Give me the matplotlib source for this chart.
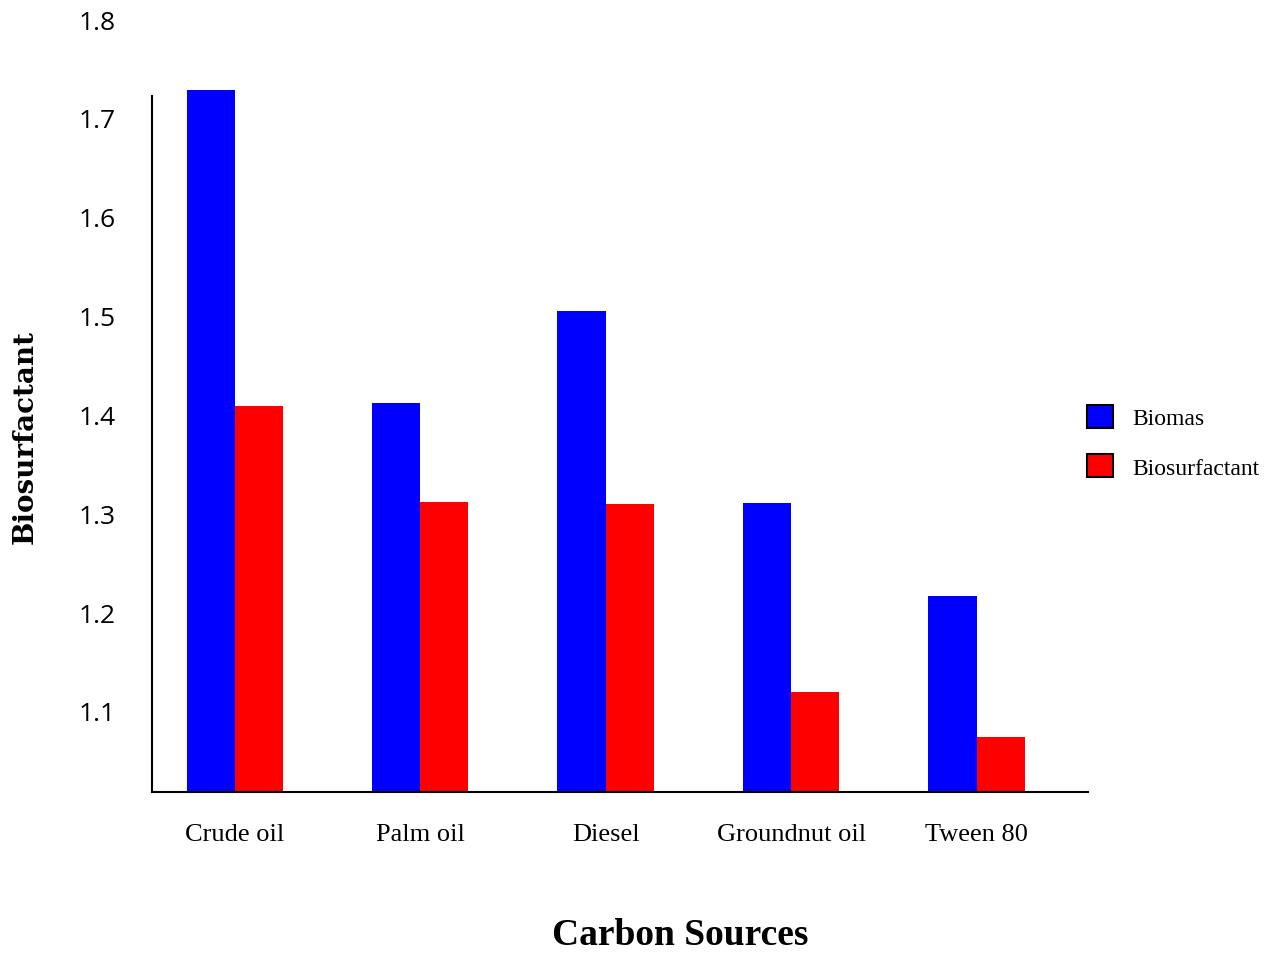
import numpy as np
import matplotlib.pyplot as plt
from matplotlib.patches import Patch

# Carbon source data
sources = ["Crude oil", "Palm oil", "Diesel", "Groundnut oil", "Tween 80"]
biomas = [1.728, 1.412, 1.505, 1.310, 1.216]
biosurfactant = [1.408, 1.311, 1.309, 1.119, 1.074]
yticks = [1.1, 1.2, 1.3, 1.4, 1.5, 1.6, 1.7, 1.8]

W, H = 1269, 954
fig = plt.figure(figsize=(W / 100, H / 100), dpi=100)
ax = fig.add_axes([152 / W, 1 - 793 / H, (1088 - 152) / W, (793 - 20) / H])

x = np.arange(len(sources))
width = 0.26
ax.bar(x - width / 2, biomas, width, color="#0000ff", zorder=1)
ax.bar(x + width / 2, biosurfactant, width, color="#ff0000", zorder=1)

ax.set_xlim(-0.446, 4.6)
ax.set_ylim(1.018, 1.8)

for s in ["top", "right"]:
    ax.spines[s].set_visible(False)
ax.spines["left"].set_bounds(1.018, 1.722)
ax.spines["left"].set_linewidth(1.5)
ax.spines["bottom"].set_linewidth(1.5)

ax.set_yticks(yticks)
ax.set_yticklabels([f"{v:.1f}" for v in yticks], fontfamily="Open Sans", fontsize=19)
ax.tick_params(axis="y", length=0, pad=26)

ax.set_xticks(x)
ax.set_xticklabels(sources, fontfamily="Liberation Serif", fontsize=19)
ax.tick_params(axis="x", length=0, pad=22)

fig.text(25 / W, 1 - 437 / H, "Biosurfactant", rotation=90, ha="center", va="center",
         fontfamily="DejaVu Serif", fontweight="bold", fontsize=20)
fig.text(680 / W, 1 - 936 / H, "Carbon Sources", ha="center", va="center",
         fontfamily="Liberation Serif", fontweight="bold", fontsize=27)

handles = [Patch(facecolor="#0000ff", edgecolor="black", linewidth=1.5, label="Biomas"),
           Patch(facecolor="#ff0000", edgecolor="black", linewidth=1.5, label="Biosurfactant")]
fig.legend(handles=handles, loc="upper left", bbox_to_anchor=(1080 / W, 1 - 399 / H),
           frameon=False, prop={"family": "Liberation Serif", "size": 17},
           handlelength=1.1, handleheight=1.1, handletextpad=0.8, labelspacing=1.05,
           borderaxespad=0, borderpad=0.3)

fig.savefig("out.png", dpi=100)
